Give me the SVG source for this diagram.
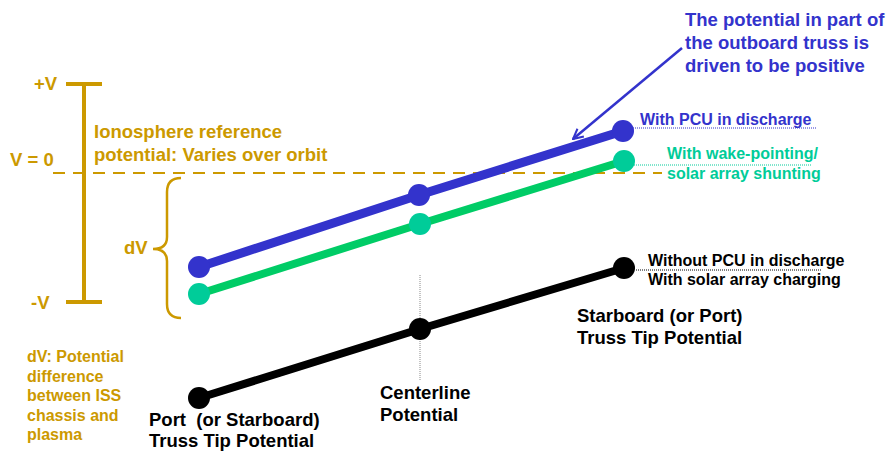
<svg xmlns="http://www.w3.org/2000/svg" width="889" height="453" viewBox="0 0 889 453">
<defs>
<style>
text{font-family:"Liberation Sans",Arial,sans-serif;font-weight:bold}
.gold{fill:#CC9900}
.blue{fill:#3333CC}
.teal{fill:#00CC99}
.blk{fill:#000}
.f17{font-size:18.5px}
.f16{font-size:18.5px}
.f14{font-size:16px}
.dot{stroke-width:1;stroke-dasharray:1 1;fill:none}
</style>
<marker id="arr" viewBox="0 0 12 12" refX="11" refY="6" markerWidth="12" markerHeight="12" markerUnits="userSpaceOnUse" orient="auto">
<path d="M1,1 L11,6 L1,11" fill="none" stroke="#3333CC" stroke-width="2"/>
</marker>
</defs>
<rect width="889" height="453" fill="#fff"/>
<g id="scale">
<line x1="84" y1="84" x2="84" y2="302" stroke="#CC9900" stroke-width="4"/>
<line x1="66" y1="84" x2="102" y2="84" stroke="#CC9900" stroke-width="4"/>
<line x1="66" y1="302" x2="102" y2="302" stroke="#CC9900" stroke-width="4"/>
<text class="gold f17" x="34" y="90">+V</text>
<text class="gold f17" x="10" y="166">V = 0</text>
<text class="gold f17" x="31" y="309">-V</text>
<text class="gold f17" x="94" y="138">Ionosphere reference</text>
<text class="gold f17" x="94" y="161">potential: Varies over orbit</text>
</g>
<g id="zero-line">
<line x1="53" y1="173" x2="662" y2="173" stroke="#CC9900" stroke-width="2" stroke-dasharray="12 8"/>
</g>
<g id="dv-brace">
<path d="M181,178 Q167,178 167,192 L167,237 Q167,249 153,249 Q167,249 167,261 L167,304 Q167,318 181,318" fill="none" stroke="#CC9900" stroke-width="2.5"/>
<text class="gold f17" x="124" y="254">dV</text>
</g>
<g id="dv-note">
<text class="gold f14" x="27" y="362">dV: Potential</text>
<text class="gold f14" x="27" y="382">difference</text>
<text class="gold f14" x="27" y="401">between ISS</text>
<text class="gold f14" x="27" y="421">chassis and</text>
<text class="gold f14" x="27" y="440">plasma</text>
</g>
<g id="connectors">
<line class="dot" x1="420" y1="275" x2="420" y2="380" stroke="#888"/>
<line class="dot" x1="633" y1="128" x2="817" y2="128" stroke="#3333CC"/>
<line class="dot" x1="628" y1="165" x2="812" y2="165" stroke="#00CC99"/>
<line class="dot" x1="636" y1="270" x2="822" y2="270" stroke="#000"/>
<line x1="682" y1="48" x2="573" y2="139" stroke="#3333CC" stroke-width="2.5" marker-end="url(#arr)"/>
</g>
<g id="blue-line">
<polyline points="199,267 419,195 623,131" fill="none" stroke="#3333CC" stroke-width="9"/>
<circle cx="199" cy="267" r="11" fill="#3333CC"/>
<circle cx="419" cy="195" r="11" fill="#3333CC"/>
<circle cx="623" cy="131" r="11" fill="#3333CC"/>
</g>
<g id="green-line">
<polyline points="199,294 420,224 624,161" fill="none" stroke="#00CC66" stroke-width="8"/>
<circle cx="199" cy="294" r="11" fill="#00CC99"/>
<circle cx="420" cy="224" r="11" fill="#00CC99"/>
<circle cx="624" cy="161" r="11" fill="#00CC99"/>
</g>
<g id="black-line">
<polyline points="199,398 420,329 624,268" fill="none" stroke="#000" stroke-width="8"/>
<circle cx="199" cy="398" r="11" fill="#000"/>
<circle cx="420" cy="329" r="11" fill="#000"/>
<circle cx="624" cy="268" r="11" fill="#000"/>
</g>
<g id="labels">
<text class="blue f17" x="685" y="26">The potential in part of</text>
<text class="blue f17" x="685" y="49">the outboard truss is</text>
<text class="blue f17" x="685" y="72">driven to be positive</text>
<text class="blue f14" x="640" y="125">With PCU in discharge</text>
<text class="teal f14" x="667" y="159">With wake-pointing/</text>
<text class="teal f14" x="667" y="179">solar array shunting</text>
<text class="blk f14" x="648" y="266">Without PCU in discharge</text>
<text class="blk f14" x="648" y="285">With solar array charging</text>
<text class="blk f16" x="577" y="322">Starboard (or Port)</text>
<text class="blk f16" x="577" y="344">Truss Tip Potential</text>
<text class="blk f16" x="380" y="399">Centerline</text>
<text class="blk f16" x="380" y="421">Potential</text>
<text class="blk f16" x="149" y="426" xml:space="preserve">Port  (or Starboard)</text>
<text class="blk f16" x="149" y="447">Truss Tip Potential</text>
</g>
</svg>
